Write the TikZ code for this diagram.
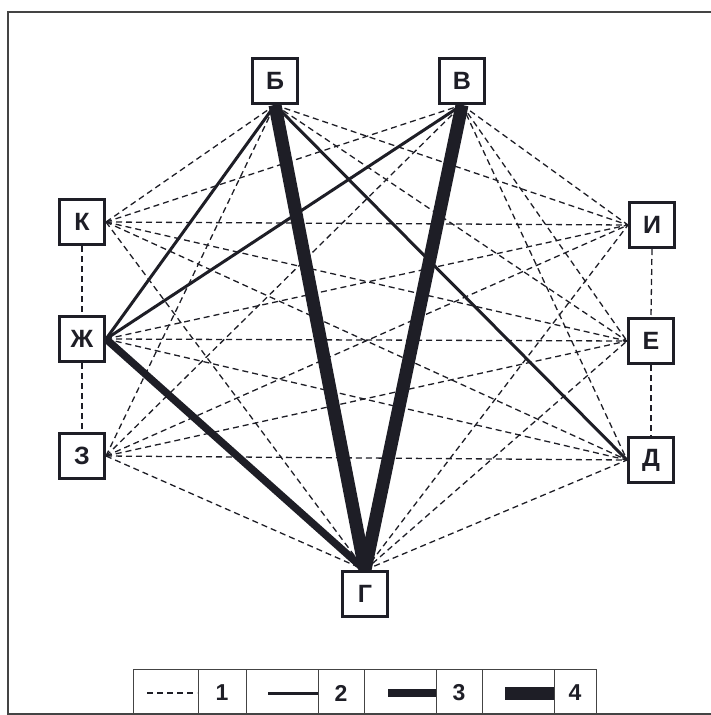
\documentclass[tikz,border=0pt]{standalone}
\usepackage{fontspec}
\setmainfont{Liberation Sans}
\usetikzlibrary{backgrounds}
\definecolor{ink}{HTML}{1E1E26}
\definecolor{frame}{HTML}{444444}
\begin{document}
\begin{tikzpicture}[x=1pt,y=-1pt,
  vbox/.style={draw=ink,line width=3pt,fill=white,minimum width=45pt,minimum height=45pt,inner sep=0pt,
    font=\fontsize{25}{25}\selectfont\bfseries,text=ink},
  lt1/.style={draw=ink,line width=1.3pt,dash pattern=on 6pt off 4pt},
  lt2/.style={draw=ink,line width=3pt},
  lt3/.style={draw=ink,line width=7.5pt},
  lt4/.style={draw=ink,line width=13pt},
  cell/.style={draw=frame,line width=1pt},
  num/.style={font=\fontsize{23}{23}\selectfont\bfseries,text=ink}]
\useasboundingbox (0,0) rectangle (711,715);
% outer frame
\draw[frame,line width=1.4pt] (716,12) -- (8,12) -- (8,714) -- (716,714);

% nodes
\node[vbox] (B) at (275,81) {Б};
\node[vbox] (V) at (462,81) {В};
\node[vbox] (K) at (82,222) {К};
\node[vbox] (Zh) at (82,339) {Ж};
\node[vbox] (Z) at (82,456) {З};
\node[vbox] (I) at (652,225) {И};
\node[vbox] (E) at (651,341) {Е};
\node[vbox] (D) at (651,460) {Д};
\node[vbox] (G) at (365,594) {Г};

% connectors, behind the boxes
\begin{scope}[on background layer]
\path
  (K.south) edge[lt1] (Zh.north)
  (Zh.south) edge[lt1] (Z.north)
  (I.south) edge[lt1] (E.north)
  (E.south) edge[lt1] (D.north)
  (K.east) edge[lt1] (B.south)
  (K.east) edge[lt1] (V.south)
  (K.east) edge[lt1] (I.west)
  (K.east) edge[lt1] (E.west)
  (K.east) edge[lt1] (D.west)
  (K.east) edge[lt1] (G.north)
  (Zh.east) edge[lt1] (I.west)
  (Zh.east) edge[lt1] (E.west)
  (Zh.east) edge[lt1] (D.west)
  (Z.east) edge[lt1] (B.south)
  (Z.east) edge[lt1] (V.south)
  (Z.east) edge[lt1] (I.west)
  (Z.east) edge[lt1] (E.west)
  (Z.east) edge[lt1] (D.west)
  (Z.east) edge[lt1] (G.north)
  (B.south) edge[lt1] (I.west)
  (B.south) edge[lt1] (E.west)
  (V.south) edge[lt1] (I.west)
  (V.south) edge[lt1] (E.west)
  (V.south) edge[lt1] (D.west)
  (G.north) edge[lt1] (I.west)
  (G.north) edge[lt1] (E.west)
  (G.north) edge[lt1] (D.west)
  (Zh.east) edge[lt2] (B.south)
  (Zh.east) edge[lt2] (V.south)
  (B.south) edge[lt2] (D.west)
  (Zh.east) edge[lt3] (G.north)
  (B.south) edge[lt4] (G.north)
  (V.south) edge[lt4] (G.north);
\end{scope}

% legend
\draw[cell] (133,669) rectangle (596,716);
\foreach \x in {198,246,318,364,436,482,554}{
  \draw[cell] (\x,669) -- (\x,716);
}
\coordinate (l1a) at (147,693); \coordinate (l1b) at (197,693);
\coordinate (l2a) at (268,693); \coordinate (l2b) at (318,693);
\coordinate (l3a) at (388,693); \coordinate (l3b) at (436,693);
\coordinate (l4a) at (505,693); \coordinate (l4b) at (554,693);
\draw[lt1] (l1a) -- (l1b);
\draw[lt2] (l2a) -- (l2b);
\draw[lt3] (l3a) -- (l3b);
\draw[lt4] (l4a) -- (l4b);
\node[num] (n1) at (222,693) {1};
\node[num] (n2) at (341,693) {2};
\node[num] (n3) at (459,693) {3};
\node[num] (n4) at (575,693) {4};
\end{tikzpicture}
\end{document}
